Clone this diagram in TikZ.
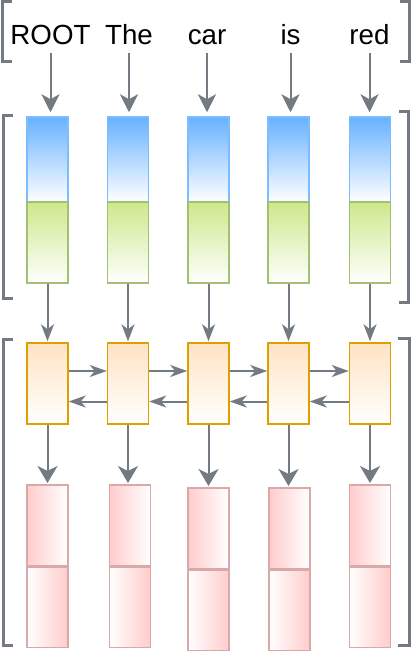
\documentclass[tikz,border=0pt]{standalone}
\usepackage{fontspec}
\setmainfont{Liberation Sans}
\usetikzlibrary{arrows.meta}
\definecolor{gr}{HTML}{737A82}
\definecolor{bluetop}{HTML}{66B2FF}
\definecolor{blueline}{HTML}{7DBDFF}
\definecolor{greentop}{HTML}{CDE88C}
\definecolor{greenline}{HTML}{A3BF74}
\definecolor{orangetop}{HTML}{FFE3C4}
\definecolor{orangeline}{HTML}{DDA000}
\definecolor{pinkfill}{HTML}{FFCCCC}
\definecolor{pinkline}{HTML}{D9A9A9}
\tikzset{
  word/.style={inner sep=0pt, anchor=base, font=\fontsize{27.7bp}{30bp}\selectfont},
  cell/.style={rectangle, inner sep=0pt, minimum width=41bp, line width=1.5bp},
  bluebox/.style={cell, minimum height=85bp, draw=blueline, top color=bluetop, bottom color=white},
  greenbox/.style={cell, minimum height=81bp, draw=greenline, top color=greentop, bottom color=white},
  orangebox/.style={cell, minimum height=81bp, draw=orangeline, top color=orangetop, bottom color=white},
  pinkA/.style={cell, minimum height=81bp, draw=pinkline, left color=pinkfill, right color=white},
  pinkB/.style={cell, minimum height=80bp, draw=pinkline, left color=white, right color=pinkfill},
  bigarrow/.style={draw=gr, line width=2bp, -{Stealth[length=18bp,width=18bp,inset=5bp]}},
  midarrow/.style={draw=gr, line width=2bp, -{Stealth[length=17bp,width=13bp,inset=5bp]}},
  harrow/.style={draw=gr, line width=2bp, -{Stealth[length=17bp,width=12bp,inset=5bp]}},
  downarrow/.style={draw=gr, line width=2bp, -{Stealth[length=17bp,width=20bp,inset=5bp]}},
  bracket/.style={draw=gr, line width=3bp}
}
\begin{document}
\begin{tikzpicture}[x=1bp,y=-1bp]
\useasboundingbox (0,0) rectangle (416,651);
% brackets
\draw[bracket] (12,1.5) -- (2.5,1.5) -- (2.5,61.5) -- (12,61.5);
\draw[bracket] (400,1.5) -- (409,1.5) -- (409,61.5) -- (400,61.5);
\draw[bracket] (13,115.5) -- (3.5,115.5) -- (3.5,298) -- (13,298);
\draw[bracket] (399,111.5) -- (408.5,111.5) -- (408.5,302) -- (399,302);
\draw[bracket] (13,339) -- (3.5,339) -- (3.5,645) -- (13,645);
\draw[bracket] (398,338) -- (409,338) -- (409,645) -- (398,645);
% words
\node[word] (w1) at (50.5,45) {ROOT};
\node[word] (w2) at (129,45) {The};
\node[word] (w3) at (207,45) {car};
\node[word] (w4) at (290.5,45) {is};
\node[word] (w5) at (369.5,45) {red};
% blue and green
\foreach \i/\x in {1/47.5,2/128,3/208.5,4/288.5,5/370}{
  \node[bluebox] (b\i) at (\x,159.5) {};
  \node[greenbox] (g\i) at (\x,242.5) {};
  \node[orangebox] (o\i) at (\x,383.5) {};
}
% pink
\foreach \i/\x/\t in {1/47.5/484,2/130/484,3/208.5/487,4/289.5/487,5/370/484}{
  \node[pinkA, anchor=north] (pa\i) at (\x,\t) {};
  \node[pinkB, anchor=north] (pb\i) at (pa\i.south) {};
}
% arrows words -> blue
\foreach \i in {1,...,5}{
  \draw[bigarrow, shorten <=8bp, shorten >=4bp] (w\i.south) -- (w\i.south |- b\i.north);
  \draw[midarrow, shorten >=1bp] (g\i.south) -- (o\i.north);
  \draw[downarrow, shorten >=1bp] (o\i.south) -- (o\i.south |- pa\i.north);
}
% horizontal arrows
\foreach \i/\j in {1/2,2/3,3/4,4/5}{
  \draw[harrow] ([yshift=12.5bp]o\i.east) -- ([yshift=12.5bp]o\j.west);
  \draw[harrow] ([yshift=-18bp]o\j.west) -- ([yshift=-18bp]o\i.east);
}
\end{tikzpicture}
\end{document}
